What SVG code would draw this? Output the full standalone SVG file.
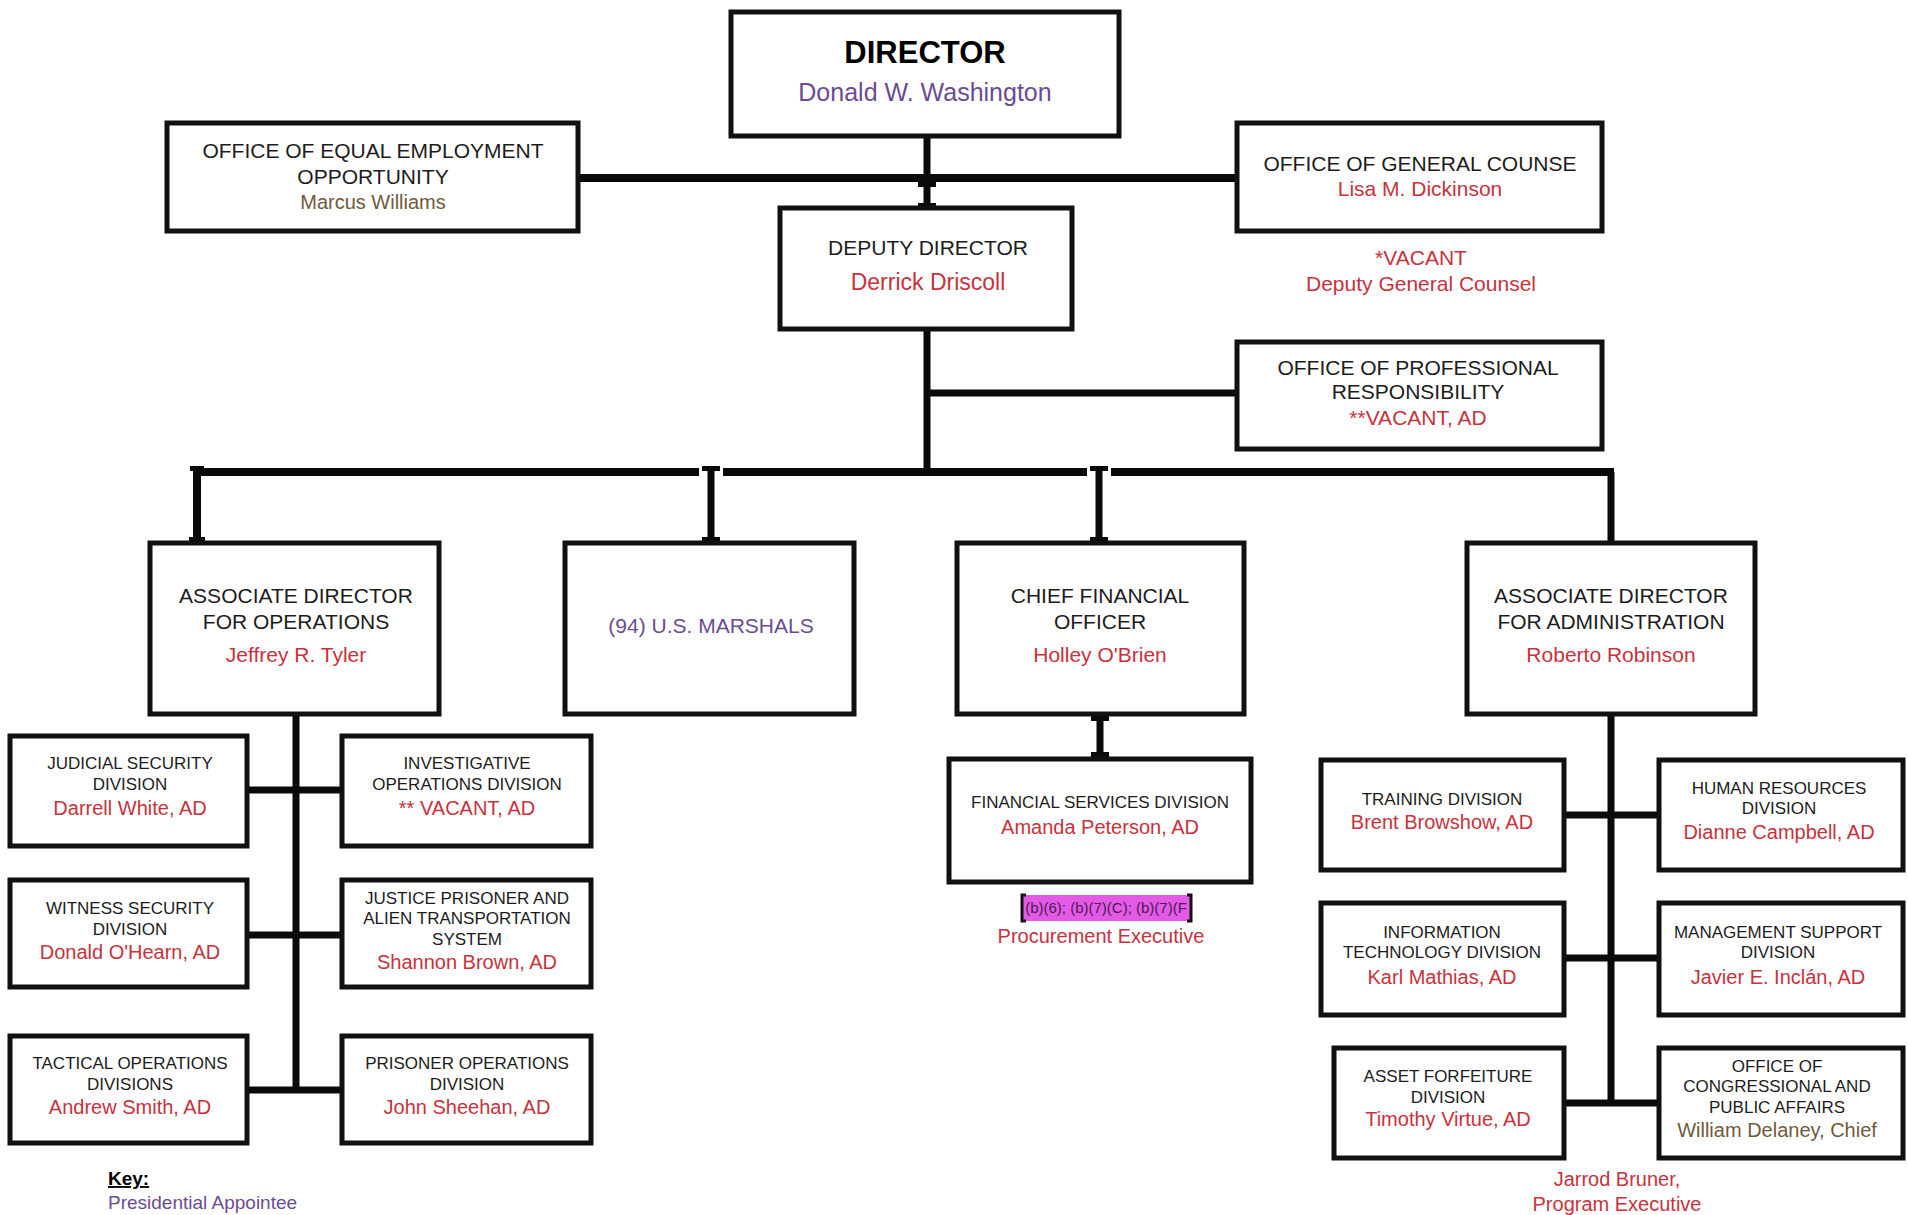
<svg xmlns="http://www.w3.org/2000/svg" width="1908" height="1215" viewBox="0 0 1908 1215">
<style>
.box{fill:#fff;stroke:#111;stroke-width:5}
.ln{stroke:#0a0a0a;stroke-width:7;fill:none}
.ib{fill:#0a0a0a}
.gap{fill:#fff}
text{font-family:"Liberation Sans",Arial,Helvetica,sans-serif;text-anchor:middle;fill:#1c1c1c}
.t21{font-size:21px}
.t17{font-size:17px}
.n20{font-size:20px;fill:#c7323d}
.n21{font-size:21px;fill:#c7323d}
.pur{fill:#6b4c93}
.brn{fill:#6e5a3c}
</style>
<rect width="1908" height="1215" fill="#fff"/>

<g id="connectors">
  <line class="ln" x1="927" y1="136" x2="927" y2="178"/>
  <line class="ln" x1="578" y1="178" x2="1237" y2="178" style="stroke-width:8"/>
  <rect class="gap" x="915" y="182" width="24" height="26"/>
  <path class="ib" d="M918 182h18v5h-5.5v16h5.5v5h-18v-5h5.5v-16h-5.5z"/>
  <line class="ln" x1="927" y1="329" x2="927" y2="472"/>
  <line class="ln" x1="927" y1="393" x2="1237" y2="393"/>
  <line class="ln" x1="200" y1="472" x2="1614" y2="472" style="stroke-width:8"/>
  <line class="ln" x1="1611" y1="472" x2="1611" y2="543"/>
  <rect class="gap" x="185" y="466" width="14" height="12"/>
  <path class="ib" d="M190 466h14v5h-3v66h4v5h-16v-5h4v-66h-3z"/>
  <rect class="gap" x="699" y="466" width="24" height="80"/>
  <path class="ib" d="M702 466h18v5h-5.5v66h5.5v5h-18v-5h5.5v-66h-5.5z"/>
  <rect class="gap" x="1087" y="466" width="24" height="80"/>
  <path class="ib" d="M1090 466h18v5h-5.5v66h5.5v5h-18v-5h5.5v-66h-5.5z"/>
  <line class="ln" x1="296" y1="714" x2="296" y2="1093"/>
  <line class="ln" x1="247" y1="790" x2="342" y2="790"/>
  <line class="ln" x1="247" y1="935" x2="342" y2="935"/>
  <line class="ln" x1="247" y1="1090" x2="342" y2="1090"/>
  <rect class="gap" x="1088" y="714" width="24" height="46"/>
  <path class="ib" d="M1091 716h18v5h-5.5v31h5.5v5h-18v-5h5.5v-31h-5.5z"/>
  <line class="ln" x1="1611" y1="714" x2="1611" y2="1106"/>
  <line class="ln" x1="1564" y1="815" x2="1659" y2="815"/>
  <line class="ln" x1="1564" y1="958" x2="1659" y2="958"/>
  <line class="ln" x1="1564" y1="1103" x2="1659" y2="1103"/>
</g>

<g id="director">
  <rect class="box" x="731" y="12" width="388" height="124"/>
  <text x="925" y="63" style="font-size:31px;font-weight:bold;fill:#000">DIRECTOR</text>
  <text x="925" y="101" class="pur" style="font-size:25px">Donald W. Washington</text>
</g>

<g id="eeo">
  <rect class="box" x="167" y="123" width="411" height="108"/>
  <text x="373" y="158" class="t21">OFFICE OF EQUAL EMPLOYMENT</text>
  <text x="373" y="184" class="t21">OPPORTUNITY</text>
  <text x="373" y="209" class="brn" style="font-size:20px">Marcus Williams</text>
</g>

<g id="general-counsel">
  <rect class="box" x="1237" y="123" width="365" height="108"/>
  <text x="1420" y="171" class="t21">OFFICE OF GENERAL COUNSE</text>
  <text x="1420" y="196" class="n21">Lisa M. Dickinson</text>
</g>

<g id="deputy-general-counsel">
  <text x="1421" y="265" class="n21">*VACANT</text>
  <text x="1421" y="291" class="n21">Deputy General Counsel</text>
</g>

<g id="deputy-director">
  <rect class="box" x="780" y="208" width="292" height="121"/>
  <text x="928" y="255" class="t21">DEPUTY DIRECTOR</text>
  <text x="928" y="290" class="n21" style="font-size:23px">Derrick Driscoll</text>
</g>

<g id="opr">
  <rect class="box" x="1237" y="342" width="365" height="107"/>
  <text x="1418" y="375" class="t21">OFFICE OF PROFESSIONAL</text>
  <text x="1418" y="399" class="t21">RESPONSIBILITY</text>
  <text x="1418" y="425" class="n21">**VACANT, AD</text>
</g>

<g id="ad-operations">
  <rect class="box" x="150" y="543" width="289" height="171"/>
  <text x="296" y="603" class="t21">ASSOCIATE DIRECTOR</text>
  <text x="296" y="629" class="t21">FOR OPERATIONS</text>
  <text x="296" y="662" class="n21">Jeffrey R. Tyler</text>
</g>

<g id="us-marshals">
  <rect class="box" x="565" y="543" width="289" height="171"/>
  <text x="711" y="633" class="t21 pur">(94) U.S. MARSHALS</text>
</g>

<g id="cfo">
  <rect class="box" x="957" y="543" width="287" height="171"/>
  <text x="1100" y="603" class="t21">CHIEF FINANCIAL</text>
  <text x="1100" y="629" class="t21">OFFICER</text>
  <text x="1100" y="662" class="n21">Holley O'Brien</text>
</g>

<g id="ad-administration">
  <rect class="box" x="1467" y="543" width="288" height="171"/>
  <text x="1611" y="603" class="t21">ASSOCIATE DIRECTOR</text>
  <text x="1611" y="629" class="t21">FOR ADMINISTRATION</text>
  <text x="1611" y="662" class="n21">Roberto Robinson</text>
</g>

<g id="judicial-security">
  <rect class="box" x="10" y="736" width="237" height="110"/>
  <text x="130" y="769" class="t17">JUDICIAL SECURITY</text>
  <text x="130" y="790" class="t17">DIVISION</text>
  <text x="130" y="815" class="n20">Darrell White, AD</text>
</g>

<g id="investigative-operations">
  <rect class="box" x="342" y="736" width="249" height="110"/>
  <text x="467" y="769" class="t17">INVESTIGATIVE</text>
  <text x="467" y="790" class="t17">OPERATIONS DIVISION</text>
  <text x="467" y="815" class="n20">** VACANT, AD</text>
</g>

<g id="witness-security">
  <rect class="box" x="10" y="880" width="237" height="107"/>
  <text x="130" y="914" class="t17">WITNESS SECURITY</text>
  <text x="130" y="935" class="t17">DIVISION</text>
  <text x="130" y="959" class="n20">Donald O'Hearn, AD</text>
</g>

<g id="jpats">
  <rect class="box" x="342" y="880" width="249" height="107"/>
  <text x="467" y="904" class="t17">JUSTICE PRISONER AND</text>
  <text x="467" y="924" class="t17">ALIEN TRANSPORTATION</text>
  <text x="467" y="945" class="t17">SYSTEM</text>
  <text x="467" y="969" class="n20">Shannon Brown, AD</text>
</g>

<g id="tactical-operations">
  <rect class="box" x="10" y="1036" width="237" height="107"/>
  <text x="130" y="1069" class="t17">TACTICAL OPERATIONS</text>
  <text x="130" y="1090" class="t17">DIVISIONS</text>
  <text x="130" y="1114" class="n20">Andrew Smith, AD</text>
</g>

<g id="prisoner-operations">
  <rect class="box" x="342" y="1036" width="249" height="107"/>
  <text x="467" y="1069" class="t17">PRISONER OPERATIONS</text>
  <text x="467" y="1090" class="t17">DIVISION</text>
  <text x="467" y="1114" class="n20">John Sheehan, AD</text>
</g>

<g id="financial-services">
  <rect class="box" x="949" y="759" width="302" height="123"/>
  <text x="1100" y="808" class="t17">FINANCIAL SERVICES DIVISION</text>
  <text x="1100" y="834" class="n20">Amanda Peterson, AD</text>
</g>

<g id="procurement-executive">
  <rect x="1023" y="895" width="168" height="26" fill="#e45ae6"/>
  <path d="M1026 895h-4v26h4 M1187 895h4v26h-4" stroke="#111" stroke-width="3" fill="none"/>
  <text x="1106" y="913" style="font-size:15px;fill:#4a1a55">(b)(6); (b)(7)(C); (b)(7)(F</text>
  <text x="1101" y="943" class="n20">Procurement Executive</text>
</g>

<g id="training">
  <rect class="box" x="1321" y="760" width="243" height="110"/>
  <text x="1442" y="805" class="t17">TRAINING DIVISION</text>
  <text x="1442" y="829" class="n20">Brent Browshow, AD</text>
</g>

<g id="human-resources">
  <rect class="box" x="1659" y="760" width="244" height="110"/>
  <text x="1779" y="794" class="t17">HUMAN RESOURCES</text>
  <text x="1779" y="814" class="t17">DIVISION</text>
  <text x="1779" y="839" class="n20">Dianne Campbell, AD</text>
</g>

<g id="information-technology">
  <rect class="box" x="1321" y="903" width="243" height="112"/>
  <text x="1442" y="938" class="t17">INFORMATION</text>
  <text x="1442" y="958" class="t17">TECHNOLOGY DIVISION</text>
  <text x="1442" y="984" class="n20">Karl Mathias, AD</text>
</g>

<g id="management-support">
  <rect class="box" x="1659" y="903" width="244" height="112"/>
  <text x="1778" y="938" class="t17">MANAGEMENT SUPPORT</text>
  <text x="1778" y="958" class="t17">DIVISION</text>
  <text x="1778" y="984" class="n20">Javier E. Inclán, AD</text>
</g>

<g id="asset-forfeiture">
  <rect class="box" x="1334" y="1048" width="230" height="110"/>
  <text x="1448" y="1082" class="t17">ASSET FORFEITURE</text>
  <text x="1448" y="1103" class="t17">DIVISION</text>
  <text x="1448" y="1126" class="n20">Timothy Virtue, AD</text>
</g>

<g id="congressional-public-affairs">
  <rect class="box" x="1659" y="1048" width="244" height="110"/>
  <text x="1777" y="1072" class="t17">OFFICE OF</text>
  <text x="1777" y="1092" class="t17">CONGRESSIONAL AND</text>
  <text x="1777" y="1113" class="t17">PUBLIC AFFAIRS</text>
  <text x="1777" y="1137" class="brn" style="font-size:20px">William Delaney, Chief</text>
</g>

<g id="program-executive">
  <text x="1617" y="1186" class="n20">Jarrod Bruner,</text>
  <text x="1617" y="1211" class="n20">Program Executive</text>
</g>

<g id="key">
  <text x="108" y="1185" style="text-anchor:start;font-size:19px;font-weight:bold;text-decoration:underline;fill:#000">Key:</text>
  <text x="108" y="1209" class="pur" style="text-anchor:start;font-size:19px">Presidential Appointee</text>
</g>
</svg>
